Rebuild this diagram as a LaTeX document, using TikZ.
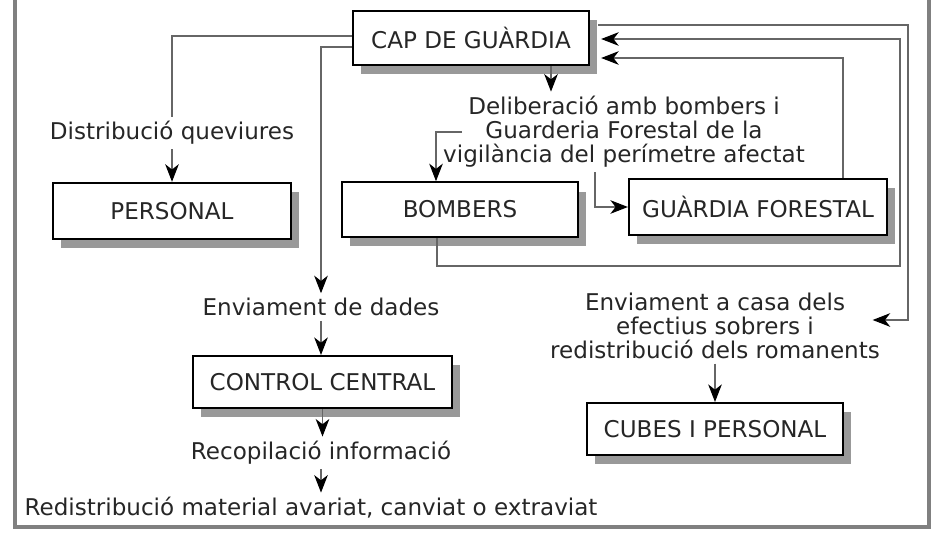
\documentclass[tikz,border=0pt]{standalone}
\usepackage{fontspec}
\setmainfont{DejaVu Sans}
\usetikzlibrary{arrows.meta,calc,shadows}

\tikzset{
  box/.style={draw=black, line width=1pt, fill=white, minimum height=0.87cm,
    font=\fontsize{10.5}{11}\selectfont, text=black!85,
    drop shadow={shadow xshift=3.6pt, shadow yshift=-4.2pt, fill=black!40, opacity=1}},
  txt/.style={align=center, font=\fontsize{10.5}{10.9}\selectfont, text=black!85, inner sep=2pt},
  link/.style={draw=black!60, line width=0.5pt},
  arr/.style={link, -{Stealth[length=8pt, width=6.2pt, inset=2.4pt, black]}},
  frame/.style={draw=black!50, line width=1.8pt}
}

\begin{document}
\begin{tikzpicture}[x=0.016cm, y=-0.016cm]
  \useasboundingbox (0,0) rectangle (933,534);
  \draw[frame] (15,0) -- (15,527) -- (929,527) -- (929,0);

  % boxes
  \node[box, minimum width=3.78cm] (cap) at (471,38) {CAP DE GUÀRDIA};
  \node[box, minimum width=3.81cm, minimum height=0.9cm] (personal) at (172,211) {PERSONAL};
  \node[box, minimum width=3.78cm] (bombers) at (460,209.5) {BOMBERS};
  \node[box, minimum width=4.13cm, minimum height=0.9cm] (forestal) at (758,207) {GUÀRDIA FORESTAL};
  \node[box, minimum width=4.14cm, minimum height=0.83cm] (control) at (322.5,382) {CONTROL CENTRAL};
  \node[box, minimum width=4.1cm, minimum height=0.83cm] (cubes) at (715,429) {CUBES I PERSONAL};

  % texts
  \node[txt] (queviures) at (172,133) {Distribució queviures};
  \node[txt] (deliberacio) at (624,132) {Deliberació amb bombers i\\Guarderia Forestal de la\\vigilància del perímetre afectat};
  \node[txt] (dades) at (321,307) {Enviament de dades};
  \node[txt] (recopilacio) at (321,453) {Recopilació informació};
  \node[txt] (redistribucio) at (311,508) {Redistribució material avariat, canviat o extraviat};
  \node[txt] (casa) at (715,326) {Enviament a casa dels\\efectius sobrers i\\redistribució dels romanents};

  % left branch
  \draw[link] (cap.west |- 0,36) -| (queviures.north);
  \draw[arr] (queviures.south) -- (personal.north);
  \draw[arr] (cap.west |- 0,47) -| (dades.north);
  \draw[arr] (dades.south) -- (dades.south |- control.north);
  \draw[arr] (control.south) -- (control.south |- recopilacio.north);
  \draw[arr] (recopilacio.south) -- (recopilacio.south |- redistribucio.north);

  % middle
  \draw[arr] (cap.south -| 551,0) -- (551,0 |- deliberacio.north);
  \draw[arr] (deliberacio.center -| 462,0) -| (bombers.north -| 436,0);
  \draw[arr] (deliberacio.south -| 595,0) |- (forestal.west);

  % back to the cap
  \draw[arr] (forestal.north -| 843,0) |- ($(cap.east)+(11,20)$);
  \draw[arr] (bombers.south -| 437,0) |- (900,266) |- ($(cap.east)+(11,1)$);
  \draw[arr] ($(cap.east)+(8,-13)$) -| (908,320) -- ($(casa.east)+(-12,-6)$);
  \draw[arr] (casa.south) -- (cubes.north);
\end{tikzpicture}
\end{document}
